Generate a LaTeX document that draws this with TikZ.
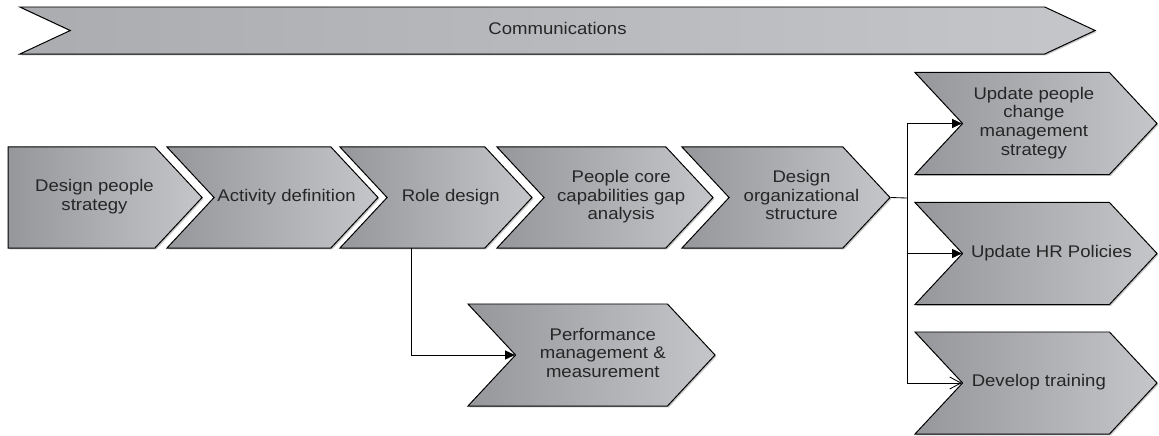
\documentclass[tikz,border=0pt]{standalone}
\usepackage{fontspec}
\setmainfont{Liberation Sans}[FakeStretch=1.1]
\usetikzlibrary{shapes.symbols,shadows,arrows.meta}

\definecolor{chevdark}{RGB}{150,151,155}
\definecolor{chevlight}{RGB}{197,198,201}

% text block moved sideways inside a chevron (takes no width)
\newcommand{\chevtext}[2]{\makebox[0pt]{\hspace*{#1}\begin{tabular}{@{}c@{}}#2\end{tabular}}}

\begin{document}
\begin{tikzpicture}[x=0.025cm,y=-0.025cm,>={Triangle[length=7pt,width=6.5pt]}]
    % styles
    \tikzstyle{chev}=[signal,signal to=east,signal from=west,draw=black,line width=0.7pt,
        left color=chevdark,right color=chevlight,minimum height=2.525cm,
        signal pointer angle=94,inner sep=0pt,text=black!85,
        font=\fontsize{12}{13.2}\selectfont,
        drop shadow={shadow xshift=1pt,shadow yshift=-1pt,opacity=0.45}]
    \tikzstyle{link}=[line width=0.6pt,black]

    \useasboundingbox (0,0) rectangle (1159,435);

    % banner
    \node[chev,left color=chevdark!55!chevlight,signal pointer angle=50,minimum height=1.175cm,minimum width=26.875cm] (comm) at (557.5,30.5) {\chevtext{0pt}{Communications}};

    % main row
    \node[chev,signal from=nowhere,minimum width=4.85cm] (strat) at (81.5,197.5) {\chevtext{18.5pt}{Design people\\strategy}};
    \node[chev,minimum width=5.275cm] (act) at (272.5,197.5) {\chevtext{20pt}{Activity definition}};
    \node[chev,minimum width=4.8cm] (role) at (436,197.5) {\chevtext{21pt}{Role design}};
    \node[chev,minimum width=5.4cm] (gap) at (605,197.5) {\chevtext{23pt}{People core\\capabilities gap\\analysis}};
    \node[chev,minimum width=5.2cm] (org) at (786,197.5) {\chevtext{22pt}{Design\\organizational\\structure}};

    % follow-ups
    \node[chev,minimum width=6.175cm,minimum height=2.55cm] (perf) at (591.5,355) {\chevtext{16pt}{Performance\\management \&\\measurement}};
    \node[chev,minimum width=6.05cm,minimum height=2.55cm] (upd) at (1036,123.5) {\chevtext{-3pt}{Update people\\change\\management\\strategy}};
    \node[chev,minimum width=6.05cm,minimum height=2.55cm] (hr) at (1036,253.5) {\chevtext{22pt}{Update HR Policies}};
    \node[chev,minimum width=6.05cm,minimum height=2.55cm] (train) at (1036,383) {\chevtext{4pt}{Develop training}};

    % connectors
    \coordinate (drop) at (411,248);
    \coordinate (fork) at (907,198);
    \draw[link,->] (drop) |- (perf.west);
    \draw[link] (org.east) -- (fork);
    \draw[link,->] (fork) |- (upd.west);
    \draw[link,->] (fork) |- (hr.west);
    \draw[link,-{Straight Barb[length=8pt,width=8.5pt]}] (fork) |- (train.west);
\end{tikzpicture}
\end{document}
